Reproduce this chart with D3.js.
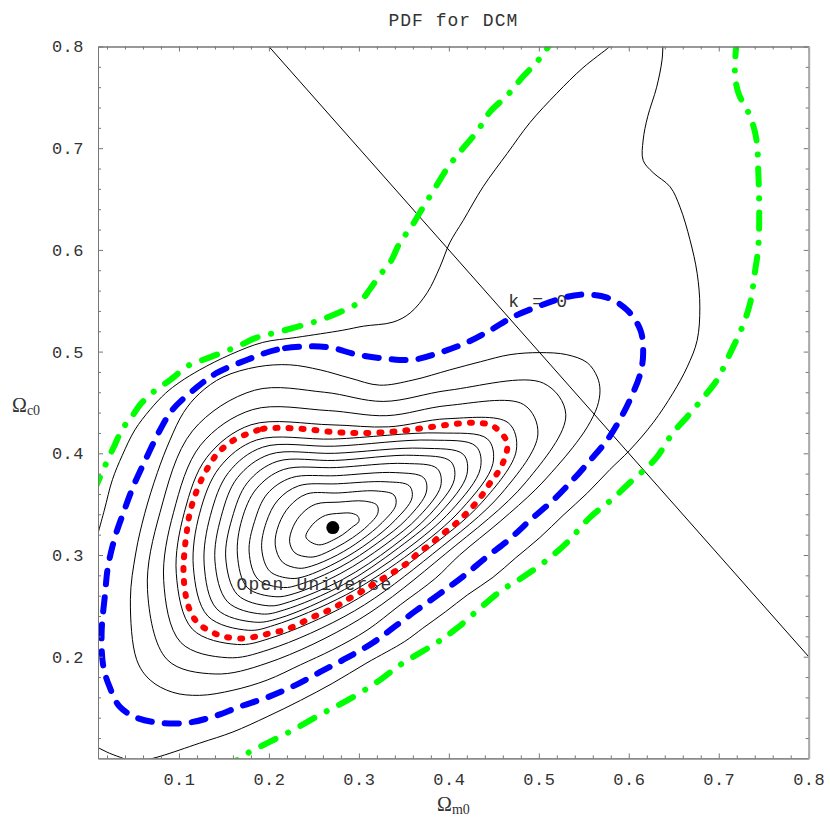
<!DOCTYPE html>
<html>
<head>
<meta charset="utf-8">
<title>PDF for DCM</title>
<script src="https://cdn.jsdelivr.net/npm/d3@7"></script>
<style>
body { margin: 0; background: #fff; }
</style>
</head>
<body>
<div id="chart"></div>
<script>

// tick values
var xMajor = [0.1, 0.2, 0.3, 0.4, 0.5, 0.6, 0.7, 0.8];
var yMajor = [0.2, 0.3, 0.4, 0.5, 0.6, 0.7, 0.8];

// best fit point
var peak = [0.271, 0.327];

// flat universe line, Om + Oc = 1
var flatLine = [[0.2, 0.8], [0.8, 0.2]];

var labelText = ["k = 0", "Open Universe"];
var labelPos = [[0.466, 0.544], [0.164, 0.266]];

// black contours inside the 1 sigma one (innermost first)
var innerContours = [
  [[.241,.318],[.245,.326],[.252,.333],[.263,.339],[.279,.341],[.292,.341],[.299,.338],[.300,.333],[.292,.327],[.282,.320],[.272,.315],[.262,.311],[.255,.310],[.246,.313]],
  [[.223,.313],[.227,.328],[.237,.341],[.252,.350],[.278,.352],[.306,.353],[.320,.349],[.321,.341],[.310,.329],[.293,.317],[.274,.307],[.254,.299],[.244,.298],[.229,.302]],
  [[.207,.310],[.211,.330],[.223,.348],[.242,.360],[.277,.361],[.319,.363],[.339,.359],[.341,.349],[.326,.332],[.303,.315],[.276,.300],[.247,.289],[.233,.287],[.215,.293]],
  [[.192,.306],[.197,.332],[.210,.354],[.233,.368],[.276,.370],[.330,.372],[.356,.368],[.359,.356],[.340,.334],[.312,.313],[.278,.294],[.240,.279],[.224,.277],[.201,.284]],
  [[.178,.303],[.184,.333],[.198,.360],[.225,.376],[.275,.378],[.341,.381],[.372,.376],[.375,.362],[.354,.336],[.321,.312],[.279,.288],[.234,.271],[.216,.268],[.188,.276]],
  [[.165,.300],[.170,.335],[.186,.365],[.216,.384],[.275,.386],[.351,.390],[.387,.385],[.391,.368],[.367,.338],[.329,.310],[.280,.282],[.228,.262],[.207,.259],[.176,.268]],
  [[.152,.297],[.159,.336],[.176,.371],[.209,.392],[.274,.393],[.361,.398],[.402,.392],[.406,.374],[.379,.340],[.337,.308],[.282,.276],[.223,.254],[.200,.250],[.165,.261]],
  [[.140,.294],[.147,.338],[.165,.376],[.201,.399],[.273,.400],[.370,.405],[.416,.399],[.420,.379],[.391,.342],[.344,.307],[.283,.271],[.217,.246],[.192,.242],[.154,.254]],
  [[.128,.291],[.135,.339],[.155,.381],[.193,.406],[.273,.407],[.380,.413],[.430,.407],[.435,.385],[.403,.344],[.352,.305],[.284,.266],[.212,.238],[.184,.234],[.142,.247]],
  [[.116,.288],[.123,.341],[.145,.386],[.186,.413],[.272,.414],[.389,.420],[.443,.414],[.449,.390],[.414,.345],[.359,.303],[.286,.261],[.206,.231],[.177,.226],[.132,.240]]
];

// black contours between 1 sigma and 2 sigma
var ringContours = [
  [[.097,.282],[.106,.342],[.131,.396],[.180,.428],[.269,.428],[.333,.426],[.398,.434],[.466,.430],[.475,.403],[.437,.352],[.371,.302],[.289,.252],[.201,.218],[.165,.212],[.115,.227]],
  [[.083,.275],[.094,.342],[.124,.408],[.182,.443],[.266,.442],[.331,.437],[.399,.447],[.483,.448],[.499,.419],[.459,.361],[.382,.301],[.295,.245],[.200,.207],[.154,.199],[.102,.214]],
  [[.065,.266],[.079,.342],[.115,.422],[.184,.462],[.262,.460],[.327,.451],[.400,.462],[.505,.469],[.530,.438],[.486,.372],[.396,.301],[.301,.237],[.199,.194],[.140,.183],[.087,.197]],
  [[.046,.256],[.052,.302],[.062,.341],[.076,.381],[.090,.413],[.105,.440],[.123,.459],[.149,.475],[.187,.485],[.223,.487],[.257,.482],[.290,.474],[.323,.467],[.360,.472],[.401,.482],[.435,.490],[.468,.497],[.501,.499],[.531,.497],[.554,.489],[.565,.475],[.568,.462],[.565,.446],[.554,.426],[.538,.406],[.520,.387],[.496,.364],[.457,.333],[.412,.300],[.385,.277],[.346,.251],[.309,.226],[.271,.207],[.235,.192],[.198,.177],[.160,.167],[.123,.162],[.093,.165],[.068,.177],[.053,.197]]
];

// outer black contour, leaves through the top edge
var outerUpper = [[.005,.305],[.017,.344],[.026,.374],[.037,.398],[.051,.423],[.068,.443],[.085,.459],[.101,.470],[.123,.482],[.157,.497],[.193,.509],[.231,.514],[.282,.521],[.305,.525],[.338,.529],[.357,.538],[.376,.558],[.390,.583],[.401,.607],[.416,.629],[.438,.662],[.465,.695],[.490,.725],[.520,.754],[.549,.779],[.579,.800],[.585,.805]];
var outerLower = [[.638,.805],[.637,.787],[.631,.760],[.621,.731],[.616,.708],[.616,.688],[.627,.676],[.646,.662],[.657,.642],[.668,.610],[.676,.577],[.679,.544],[.676,.511],[.665,.485],[.649,.459],[.627,.430],[.601,.403],[.579,.384],[.554,.361],[.527,.339],[.501,.317],[.474,.297],[.449,.278],[.421,.261],[.396,.244],[.371,.228],[.351,.215],[.309,.194],[.271,.174],[.235,.157],[.198,.141],[.160,.126],[.123,.115],[.079,.102],[.057,.097]];
var cornerContour = [[.004,.113],[.009,.111],[.023,.105],[.038,.100],[.043,.098]];

// 1 sigma (red)
var redContour = [[.179,.420],[.193,.424],[.209,.425],[.238,.424],[.271,.421],[.301,.420],[.335,.421],[.365,.424],[.398,.428],[.427,.430],[.446,.428],[.457,.421],[.465,.410],[.462,.395],[.455,.382],[.446,.371],[.437,.359],[.426,.347],[.415,.337],[.404,.328],[.392,.320],[.379,.310],[.366,.302],[.355,.293],[.342,.285],[.327,.277],[.312,.269],[.301,.263],[.287,.256],[.274,.249],[.260,.243],[.246,.238],[.231,.231],[.216,.226],[.201,.223],[.187,.220],[.170,.218],[.149,.220],[.135,.225],[.121,.233],[.112,.246],[.107,.263],[.105,.285],[.106,.302],[.109,.325],[.112,.341],[.118,.359],[.126,.376],[.135,.390],[.143,.400],[.153,.408],[.165,.415]];

// 2 sigma (blue)
var blueContour = [[.240,.505],[.209,.502],[.176,.492],[.142,.479],[.120,.465],[.093,.443],[.079,.423],[.064,.396],[.049,.367],[.038,.341],[.029,.318],[.021,.288],[.018,.263],[.014,.223],[.016,.190],[.023,.170],[.034,.151],[.053,.140],[.079,.135],[.109,.135],[.138,.141],[.168,.151],[.198,.160],[.227,.171],[.257,.185],[.287,.199],[.316,.214],[.339,.229],[.363,.245],[.390,.262],[.416,.279],[.442,.298],[.468,.316],[.490,.334],[.516,.354],[.538,.374],[.557,.393],[.576,.413],[.590,.433],[.601,.452],[.613,.479],[.616,.499],[.613,.521],[.598,.541],[.576,.553],[.546,.556],[.520,.551],[.498,.544],[.471,.534],[.446,.521],[.420,.509],[.390,.499],[.360,.492],[.331,.493],[.298,.497],[.268,.504]];

// 3 sigma (green), two pieces
var greenUpper = [[.005,.362],[.010,.372],[.018,.388],[.029,.409],[.037,.424],[.046,.434],[.057,.448],[.071,.460],[.090,.472],[.112,.487],[.127,.492],[.142,.497],[.165,.505],[.187,.514],[.209,.519],[.238,.526],[.260,.532],[.282,.540],[.301,.549],[.312,.561],[.323,.575],[.335,.588],[.346,.608],[.357,.621],[.368,.637],[.382,.657],[.398,.680],[.412,.696],[.431,.716],[.446,.736],[.465,.752],[.482,.770],[.498,.785],[.509,.798],[.514,.805]];
var greenLower = [[.720,.806],[.718,.774],[.722,.754],[.735,.731],[.742,.708],[.744,.676],[.745,.642],[.744,.603],[.740,.577],[.735,.548],[.726,.524],[.713,.499],[.698,.472],[.683,.455],[.665,.436],[.649,.420],[.631,.396],[.620,.386],[.601,.371],[.583,.356],[.557,.337],[.531,.312],[.509,.295],[.482,.278],[.460,.266],[.435,.248],[.409,.228],[.387,.214],[.346,.192],[.320,.175],[.287,.157],[.257,.143],[.227,.128],[.198,.115],[.176,.105],[.168,.100],[.162,.097]];


var margin = {top: 46.5, right: 21.3, bottom: 71.6, left: 98},
    width = 830 - margin.left - margin.right,
    height = 830 - margin.top - margin.bottom;

var monoFont = "'Liberation Mono', 'Courier New', monospace";
var serifFont = "'Liberation Serif', 'Times New Roman', serif";

var x = d3.scaleLinear().domain([0.01, 0.8]).range([0, width]);
var y = d3.scaleLinear().domain([0.1, 0.8]).range([height, 0]);

var svg = d3.select("#chart").append("svg")
    .attr("width", 830)
    .attr("height", 830)
    .style("display", "block");

var g = svg.append("g")
    .attr("transform", "translate(" + margin.left + "," + margin.top + ")");

g.append("clipPath").attr("id", "plotClip")
  .append("rect")
    .attr("width", width)
    .attr("height", height);

var closedLine = d3.line()
    .x(function(d) { return x(d[0]); })
    .y(function(d) { return y(d[1]); })
    .curve(d3.curveCatmullRomClosed.alpha(0.5));

var openLine = d3.line()
    .x(function(d) { return x(d[0]); })
    .y(function(d) { return y(d[1]); })
    .curve(d3.curveCatmullRom.alpha(0.5));

var plot = g.append("g").attr("clip-path", "url(#plotClip)");

// thin black contours
plot.selectAll("path.inner")
  .data(innerContours.concat(ringContours))
  .enter().append("path")
    .attr("class", "inner")
    .attr("d", closedLine)
    .attr("fill", "none")
    .attr("stroke", "#000")
    .attr("stroke-width", 1);

plot.selectAll("path.outer")
  .data([outerUpper, outerLower, cornerContour])
  .enter().append("path")
    .attr("class", "outer")
    .attr("d", openLine)
    .attr("fill", "none")
    .attr("stroke", "#000")
    .attr("stroke-width", 1);

plot.append("path")
    .attr("d", d3.line().x(function(d) { return x(d[0]); }).y(function(d) { return y(d[1]); })(flatLine))
    .attr("fill", "none")
    .attr("stroke", "#000")
    .attr("stroke-width", 1);

// annotations
plot.selectAll("text.note")
  .data(labelText)
  .enter().append("text")
    .attr("class", "note")
    .attr("x", function(d, i) { return x(labelPos[i][0]); })
    .attr("y", function(d, i) { return y(labelPos[i][1]); })
    .attr("font-family", monoFont)
    .attr("font-size", 18)
    .attr("letter-spacing", 1.2)
    .attr("fill", "#333")
    .text(function(d) { return d; });

// confidence contours
plot.append("path")
    .attr("d", closedLine(redContour))
    .attr("fill", "none")
    .attr("stroke", "#ff0000")
    .attr("stroke-width", 6)
    .attr("stroke-linecap", "round")
    .attr("stroke-dasharray", "2,11");

plot.append("path")
    .attr("d", closedLine(blueContour))
    .attr("fill", "none")
    .attr("stroke", "#0000ff")
    .attr("stroke-width", 6)
    .attr("stroke-linecap", "round")
    .attr("stroke-dasharray", "14,13");

plot.selectAll("path.green")
  .data([greenUpper, greenLower])
  .enter().append("path")
    .attr("class", "green")
    .attr("d", openLine)
    .attr("fill", "none")
    .attr("stroke", "#00ff00")
    .attr("stroke-width", 6)
    .attr("stroke-linecap", "round")
    .attr("stroke-dasharray", "16,14,0.1,14");

plot.append("circle")
    .attr("cx", x(peak[0]))
    .attr("cy", y(peak[1]))
    .attr("r", 6.5)
    .attr("fill", "#000");

// axes, ticks inside on all four sides
var minorX = d3.range(0.02, 0.8, 0.02).filter(function(v) { return Math.abs(v * 10 - Math.round(v * 10)) > 1e-6; });
var minorY = d3.range(0.12, 0.8, 0.02).filter(function(v) { return Math.abs(v * 10 - Math.round(v * 10)) > 1e-6; });

function styleAxis(sel) {
  sel.attr("font-family", null).attr("font-size", null);
  sel.selectAll("path.domain").attr("stroke", "#777");
  sel.selectAll(".tick line").attr("stroke", "#777");
  sel.selectAll(".tick text")
    .attr("font-family", monoFont)
    .attr("font-size", 17)
    .attr("letter-spacing", 0.5)
    .attr("fill", "#333");
}

g.append("g")
    .attr("transform", "translate(0," + height + ")")
    .call(d3.axisBottom(x).tickValues(xMajor).tickSize(-5).tickSizeOuter(0).tickPadding(15).tickFormat(d3.format(".1f")))
    .call(styleAxis);
g.append("g")
    .attr("transform", "translate(0," + height + ")")
    .call(d3.axisBottom(x).tickValues(minorX).tickSize(-3).tickSizeOuter(0).tickFormat(""))
    .call(styleAxis);

g.append("g")
    .call(d3.axisLeft(y).tickValues(yMajor).tickSize(-5).tickSizeOuter(0).tickPadding(14).tickFormat(d3.format(".1f")))
    .call(styleAxis);
g.append("g")
    .call(d3.axisLeft(y).tickValues(minorY).tickSize(-3).tickSizeOuter(0).tickFormat(""))
    .call(styleAxis);

g.append("g")
    .call(d3.axisTop(x).tickValues(xMajor).tickSize(-5).tickSizeOuter(0).tickFormat(""))
    .call(styleAxis);
g.append("g")
    .call(d3.axisTop(x).tickValues(minorX).tickSize(-3).tickSizeOuter(0).tickFormat(""))
    .call(styleAxis);

g.append("g")
    .attr("transform", "translate(" + width + ",0)")
    .call(d3.axisRight(y).tickValues(yMajor).tickSize(-5).tickSizeOuter(0).tickFormat(""))
    .call(styleAxis);
g.append("g")
    .attr("transform", "translate(" + width + ",0)")
    .call(d3.axisRight(y).tickValues(minorY).tickSize(-3).tickSizeOuter(0).tickFormat(""))
    .call(styleAxis)
    .select("path.domain").attr("stroke", "#aaa").attr("stroke-width", 2);

// title and axis titles
svg.append("text")
    .attr("x", margin.left + width / 2)
    .attr("y", 26)
    .attr("text-anchor", "middle")
    .attr("font-family", monoFont)
    .attr("font-size", 18)
    .attr("letter-spacing", 1)
    .attr("fill", "#333")
    .text("PDF for DCM");

var xt = svg.append("text")
    .attr("x", 437)
    .attr("y", 811)
    .attr("font-family", serifFont)
    .attr("font-size", 20)
    .attr("fill", "#333")
    .text("Ω");
xt.append("tspan")
    .attr("dy", 3)
    .attr("font-size", 14)
    .text("m0");

var yt = svg.append("text")
    .attr("x", 12)
    .attr("y", 412)
    .attr("font-family", serifFont)
    .attr("font-size", 20)
    .attr("fill", "#333")
    .text("Ω");
yt.append("tspan")
    .attr("dy", 3)
    .attr("font-size", 14)
    .text("c0");

</script>
</body>
</html>
